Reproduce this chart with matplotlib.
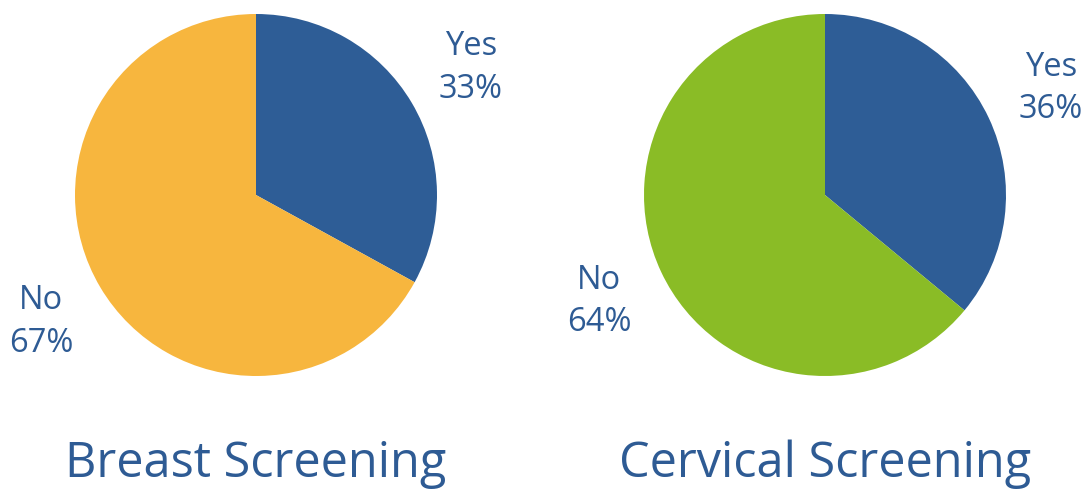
import matplotlib
matplotlib.use("Agg")
import matplotlib.pyplot as plt

# Screening uptake data
categories = ["Yes", "No"]
breast_values = [33, 67]
cervical_values = [36, 64]
titles = ["Breast Screening", "Cervical Screening"]

blue = "#2e5d96"
orange = "#f7b63e"
green = "#8abc26"
text_color = "#2e5b94"

plt.rcParams["font.family"] = ["Open Sans", "DejaVu Sans"]

W, H = 1086, 490
fig = plt.figure(figsize=(W / 100, H / 100), dpi=100)
fig.patch.set_facecolor("white")

R = 181
panels = [
    (256, 195, breast_values, [blue, orange], titles[0], 256),
    (825, 195, cervical_values, [blue, green], titles[1], 825),
]

for cx, cy, vals, cols, title, tx in panels:
    ax = fig.add_axes([(cx - R) / W, (H - cy - R) / H, 2 * R / W, 2 * R / H])
    labels = [f"{c}\n{v}%" for c, v in zip(categories, vals)]
    wedges, texts = ax.pie(
        vals, colors=cols, startangle=90, counterclock=False,
        labels=labels, labeldistance=1.38, radius=1,
        wedgeprops=dict(linewidth=0),
        textprops=dict(color=text_color, fontsize=23.5, linespacing=1.38),
    )
    for t in texts:
        t.set_ha("center")
        t.set_va("center")
    ax.set_xlim(-1, 1)
    ax.set_ylim(-1, 1)
    ax.set_aspect("equal")
    fig.text(tx / W, 1 - 477 / H, title, ha="center", va="baseline",
             color=text_color, fontsize=35)

fig.savefig("out.png", dpi=100, facecolor="white")
